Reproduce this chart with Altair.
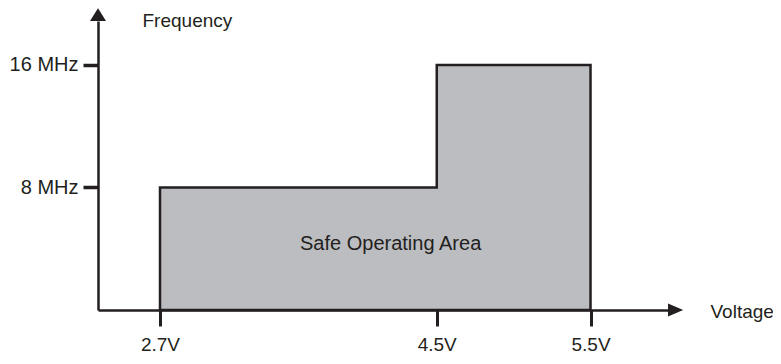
import altair as alt
import pandas as pd

# ---- data ----
voltage = [2.7, 4.5, 5.5]          # V
frequency = [8, 16, 16]            # MHz (step-after)
x_ticks = [2.7, 4.5, 5.5]
y_ticks = [8, 16]
area_label = ["Safe Operating Area"]
label_v = [4.2]
label_f = [3.9]

# ---- layout / scale domains ----
X_DOMAIN = [2.2967, 6.004]
Y_DOMAIN = [0, 18.873]
INK = "#231f20"
FONT = "Liberation Sans"
FS = 20

xs = alt.Scale(domain=X_DOMAIN, nice=False, zero=False)
ys = alt.Scale(domain=Y_DOMAIN, nice=False, zero=False)

area_df = pd.DataFrame({"V": voltage, "F": frequency})

xaxis = alt.Axis(
    values=x_ticks, labelExpr="datum.value + 'V'", grid=False,
    domainColor=INK, domainWidth=2.5, tickColor=INK, tickWidth=3, tickSize=16,
    labelFont=FONT, labelFontSize=19, labelColor=INK, labelPadding=24,
    labelBaseline="alphabetic",
    title="Voltage", titleFont=FONT, titleFontSize=19, titleFontWeight="normal",
    titleColor=INK, titleAngle=0, titleAlign="left", titleBaseline="alphabetic",
    titleX=612, titleY=7,
)
yaxis = alt.Axis(
    values=y_ticks, labelExpr="datum.value + ' MHz'", grid=False,
    domainColor=INK, domainWidth=2.5, tickColor=INK, tickWidth=3.5, tickSize=15,
    labelFont=FONT, labelFontSize=FS, labelColor=INK, labelPadding=5,
    title="Frequency", titleFont=FONT, titleFontSize=19, titleFontWeight="normal",
    titleColor=INK, titleAngle=0, titleAlign="left", titleBaseline="alphabetic",
    titleX=44, titleY=5,
)

area = alt.Chart(area_df).mark_area(
    interpolate="step-after", fill="#bcbdc0", stroke=INK, strokeWidth=2.5,
    strokeJoin="miter", opacity=1,
).encode(
    x=alt.X("V:Q", scale=xs, axis=xaxis),
    y=alt.Y("F:Q", scale=ys, axis=yaxis),
)

text = alt.Chart(pd.DataFrame({"V": label_v, "F": label_f, "t": area_label})).mark_text(
    font=FONT, fontSize=FS, color=INK, align="center", baseline="alphabetic",
).encode(
    x=alt.X("V:Q", scale=xs), y=alt.Y("F:Q", scale=ys), text="t:N",
)

arrow_up = alt.Chart(pd.DataFrame({"V": [X_DOMAIN[0]], "F": [Y_DOMAIN[1]]})).mark_point(
    shape="M-1,0L1,0L0,-1.6Z", size=256, filled=True, color=INK, opacity=1,
).encode(x=alt.X("V:Q", scale=xs), y=alt.Y("F:Q", scale=ys))

arrow_right = alt.Chart(pd.DataFrame({"V": [X_DOMAIN[1]], "F": [Y_DOMAIN[0]]})).mark_point(
    shape="M0,-0.8L0,0.8L1.9,0Z", size=256, filled=True, color=INK, opacity=1,
).encode(x=alt.X("V:Q", scale=xs), y=alt.Y("F:Q", scale=ys))

chart = alt.layer(area, text, arrow_up, arrow_right).properties(
    width=570, height=289,
    padding={"left": 90, "top": 13, "right": 105, "bottom": 46},
    autosize=alt.AutoSizeParams(type="none"),
    background="white",
).configure_view(stroke=None)

chart.save("out.html", embed_options={"renderer": "svg", "actions": False})
